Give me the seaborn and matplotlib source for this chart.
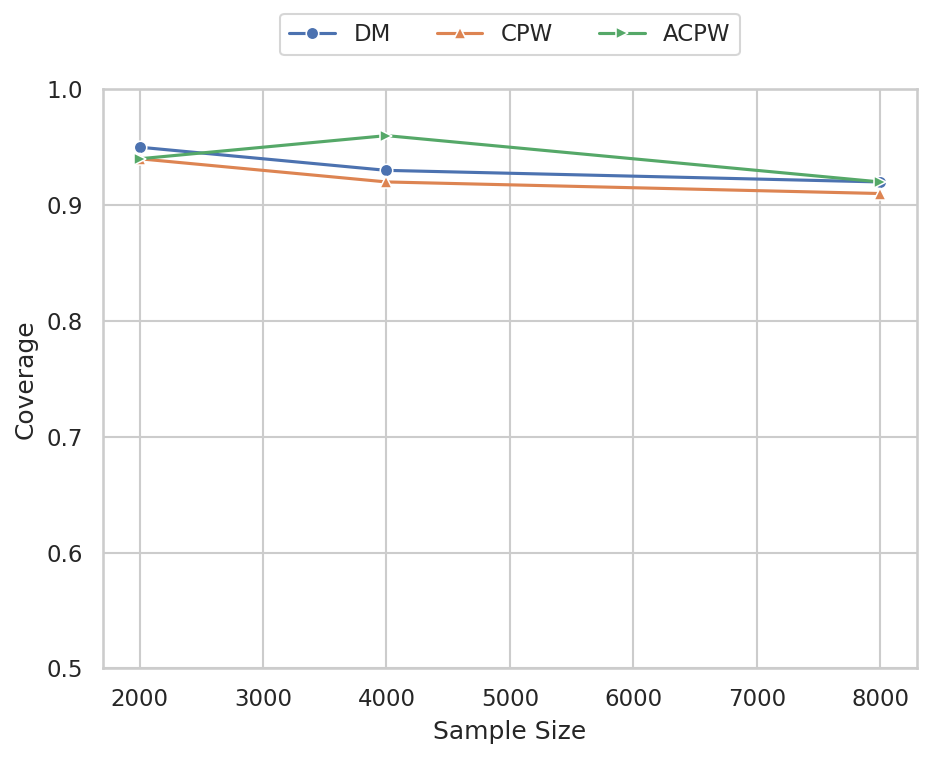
import numpy as np
import pandas as pd
import matplotlib
matplotlib.use("Agg")
import matplotlib.pyplot as plt
import seaborn as sns

sample_sizes = [2000, 4000, 8000]
methods = ["DM", "CPW", "ACPW"]
dm_coverage = [0.95, 0.93, 0.92]
cpw_coverage = [0.94, 0.92, 0.91]
acpw_coverage = [0.94, 0.96, 0.92]

df = pd.DataFrame({
    "Sample Size": sample_sizes * 3,
    "Coverage": dm_coverage + cpw_coverage + acpw_coverage,
    "Method": [m for m in methods for _ in sample_sizes],
})

sns.set_theme(style="whitegrid")

fig, ax = plt.subplots(figsize=(6.22, 5.047), dpi=150)
sns.lineplot(
    data=df, x="Sample Size", y="Coverage", hue="Method", style="Method",
    markers=["o", "^", ">"], dashes=False, ax=ax,
)
ax.set_ylim(0.5, 1.0)
ax.set_xticks([2000, 3000, 4000, 5000, 6000, 7000, 8000])

ax.legend(loc="upper center", bbox_to_anchor=(0.5, 1.15), ncol=3, frameon=True)

fig.subplots_adjust(left=0.11, right=0.983, top=0.882, bottom=0.117)
fig.savefig("out.png", dpi=150)
